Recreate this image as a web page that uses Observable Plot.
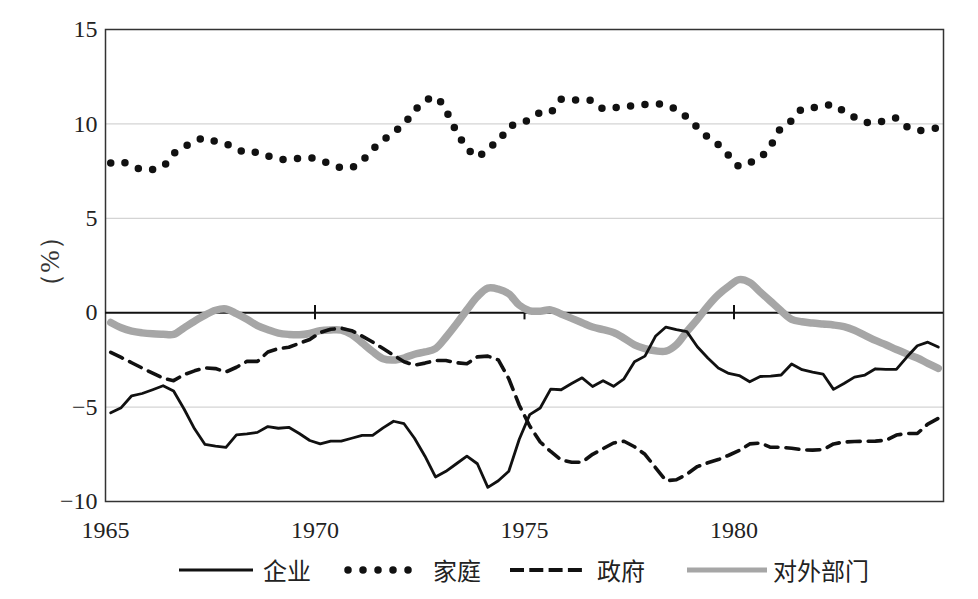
<!DOCTYPE html>
<html>
<head>
<meta charset="utf-8">
<script src="https://cdn.jsdelivr.net/npm/d3@7"></script>
<script src="https://cdn.jsdelivr.net/npm/@observablehq/plot@0.6"></script>
<style>
  html, body { margin: 0; padding: 0; background: #fff; }
  #wrap { position: relative; width: 978px; height: 599px; }
  #chart svg, #chart svg text { font-family: "Liberation Serif", "DejaVu Serif", serif !important; }
  #legend { position: absolute; left: 0; top: 552px; width: 978px; height: 36px;
    font-family: "Noto Sans CJK SC", sans-serif; font-size: 24px; color: #222; }
  .sw { position: absolute; top: 12px; }
  .lab { position: absolute; top: 0; height: 36px; line-height: 36px; white-space: nowrap; }
</style>
</head>
<body>
<div id="wrap">
  <div id="chart"></div>
  <div id="legend"></div>
</div>
<script>
// Series names
const seriesNames = ["企业", "家庭", "政府", "对外部门"];

// Quarterly time axis 1965Q1 .. 1984Q4 (quarter midpoints)
const quarters = d3.range(80).map(i => 1965.125 + i * 0.25);

// Net lending as %
const enterprise = [
  -5.3, -5.03, -4.4, -4.28, -4.08, -3.87, -4.15, -5.1, -6.15, -6.98,
  -7.07, -7.13, -6.47, -6.42, -6.34, -6.03, -6.12, -6.07, -6.4, -6.77,
  -6.95, -6.8, -6.8, -6.65, -6.5, -6.5, -6.1, -5.75, -5.88, -6.65,
  -7.6, -8.7, -8.4, -8.0, -7.6, -8.0, -9.25, -8.9, -8.4, -6.7,
  -5.4, -5.05, -4.05, -4.08, -3.75, -3.45, -3.91, -3.6, -3.9, -3.5,
  -2.6, -2.3, -1.25, -0.76, -0.9, -1.0, -1.8, -2.4, -2.93, -3.22,
  -3.33, -3.66, -3.38, -3.36, -3.3, -2.72, -3.02, -3.15, -3.25, -4.06,
  -3.75, -3.41, -3.3, -2.97, -3.0, -3.0, -2.35, -1.75, -1.56, -1.82
];
const household = [
  7.93, 8.0, 7.78, 7.58, 7.58, 7.75, 8.42, 8.78, 9.06, 9.25,
  9.07, 8.93, 8.7, 8.44, 8.5, 8.3, 8.13, 8.13, 8.18, 8.2,
  8.1, 7.85, 7.68, 7.69, 8.05, 8.65, 9.13, 9.55, 10.0, 10.7,
  11.2, 11.42, 10.7, 9.6, 8.75, 8.25, 8.75, 9.05, 9.85, 10.0,
  10.25, 10.6, 10.62, 11.3, 11.28, 11.25, 11.22, 10.8, 10.85, 10.94,
  10.95, 11.03, 11.06, 11.0, 10.75, 10.35, 9.82, 9.3, 8.9, 8.33,
  7.76, 7.95, 8.22, 8.85, 9.78, 10.17, 10.78, 10.85, 10.93, 11.02,
  10.65, 10.35, 10.1, 10.04, 10.2, 10.3, 9.85, 9.66, 9.7, 9.8
];
const government = [
  -2.1, -2.37, -2.65, -2.93, -3.2, -3.47, -3.6, -3.28, -3.08, -2.92,
  -2.96, -3.14, -2.89, -2.58, -2.58, -2.08, -1.9, -1.83, -1.62, -1.42,
  -1.05, -0.88, -0.82, -0.95, -1.24, -1.55, -1.9, -2.25, -2.6, -2.78,
  -2.67, -2.53, -2.53, -2.65, -2.7, -2.34, -2.3, -2.5, -3.5, -4.9,
  -6.0, -6.85, -7.35, -7.8, -7.92, -7.92, -7.5, -7.2, -6.9, -6.81,
  -7.1, -7.5, -8.2, -8.9, -8.85, -8.55, -8.15, -7.95, -7.78, -7.55,
  -7.3, -6.95, -6.9, -7.13, -7.13, -7.18, -7.26, -7.28, -7.25, -6.95,
  -6.85, -6.82, -6.81, -6.8, -6.76, -6.48, -6.4, -6.4, -5.9, -5.6
];
const external = [
  -0.52, -0.8, -0.98, -1.07, -1.12, -1.14, -1.15, -0.8, -0.45, -0.13,
  0.13, 0.2, -0.05, -0.35, -0.68, -0.9, -1.08, -1.15, -1.17, -1.1,
  -0.95, -0.91, -0.92, -1.15, -1.6, -2.06, -2.44, -2.51, -2.4, -2.2,
  -2.08, -1.9, -1.3, -0.6, 0.15, 0.85, 1.3, 1.25, 1.0, 0.4,
  0.1, 0.08, 0.15, -0.07, -0.3, -0.53, -0.76, -0.9, -1.05, -1.35,
  -1.7, -1.9, -2.02, -2.04, -1.7, -1.0, -0.35, 0.35, 0.95, 1.4,
  1.75, 1.6, 1.1, 0.6, 0.1, -0.35, -0.48, -0.55, -0.6, -0.65,
  -0.74, -0.93, -1.2, -1.47, -1.7, -1.95, -2.18, -2.4, -2.68, -2.95
];

const xTicks = [1965, 1970, 1975, 1980];
const yTicks = [-10, -5, 0, 5, 10, 15];
const gridValues = [-5, 5, 10];
const zeroTicks = [1970, 1975, 1980];
const yLabel = "（%）";

const toRows = vals => vals.map((v, i) => ({t: quarters[i], v}));
const rowsEnt = toRows(enterprise);
const rowsHh = toRows(household);
const rowsGov = toRows(government);
const rowsExt = toRows(external);

const serif = "Liberation Serif";

const chart = Plot.plot({
  width: 978,
  height: 545,
  marginTop: 29,
  marginBottom: 44,
  marginLeft: 105,
  marginRight: 35,
  style: {fontSize: "24px", color: "#222", background: "#fff"},
  x: {domain: [1965, 1985], ticks: xTicks, tickFormat: d => String(d)},
  y: {domain: [-10, 15], ticks: yTicks},
  marks: [
    Plot.ruleY(gridValues, {stroke: "#d4d4d4", strokeWidth: 1.2}),
    Plot.frame({stroke: "#333", strokeWidth: 1.5}),
    Plot.ruleY([0], {stroke: "#111", strokeWidth: 2}),
    Plot.ruleX(zeroTicks, {y1: -0.38, y2: 0.38, stroke: "#111", strokeWidth: 2}),
    Plot.line(rowsExt, {x: "t", y: "v", stroke: "#a6a6a6", strokeWidth: 7.5, curve: "catmull-rom"}),
    Plot.line(rowsGov, {x: "t", y: "v", stroke: "#111", strokeWidth: 3.6, strokeDasharray: "13 8"}),
    Plot.line(rowsEnt, {x: "t", y: "v", stroke: "#111", strokeWidth: 2.8}),
    Plot.line(rowsHh, {x: "t", y: "v", stroke: "#111", strokeWidth: 7.5, strokeDasharray: "0 14.5", strokeLinecap: "round", curve: "catmull-rom"}),
    Plot.axisX({ticks: xTicks, tickFormat: d => String(d), tickSize: 0, tickPadding: 19, label: null, fontSize: 24, fontFamily: serif}),
    Plot.axisY({ticks: yTicks, tickSize: 0, tickPadding: 8, label: null, fontSize: 24, fontFamily: serif}),
    Plot.text([yLabel], {frameAnchor: "left", textAnchor: "middle", lineAnchor: "middle", dx: -55, dy: -4, rotate: -90, fontSize: 27, fill: "#333"})
  ]
});
document.getElementById("chart").appendChild(chart);

// Legend
const legendItems = [
  {name: seriesNames[0], x0: 179, x1: 253, tx: 263, stroke: "#111", width: 2.8, dash: null, cap: "butt"},
  {name: seriesNames[1], x0: 348, x1: 422, tx: 433, stroke: "#111", width: 7.5, dash: "0 15", cap: "round"},
  {name: seriesNames[2], x0: 510, x1: 582, tx: 597, stroke: "#111", width: 4, dash: "14 5.3", cap: "butt"},
  {name: seriesNames[3], x0: 687, x1: 767, tx: 773, stroke: "#a6a6a6", width: 5, dash: null, cap: "butt"}
];
const legend = d3.select("#legend");
for (const it of legendItems) {
  const w = it.x1 - it.x0 + 8;
  const s = legend.append("svg").attr("class", "sw").style("left", (it.x0 - 4) + "px")
    .attr("width", w).attr("height", 12);
  s.append("line").attr("x1", 4).attr("x2", w - 4).attr("y1", 6).attr("y2", 6)
    .attr("stroke", it.stroke).attr("stroke-width", it.width)
    .attr("stroke-dasharray", it.dash).attr("stroke-linecap", it.cap);
  legend.append("div").attr("class", "lab").style("left", it.tx + "px").text(it.name);
}
</script>
</body>
</html>
